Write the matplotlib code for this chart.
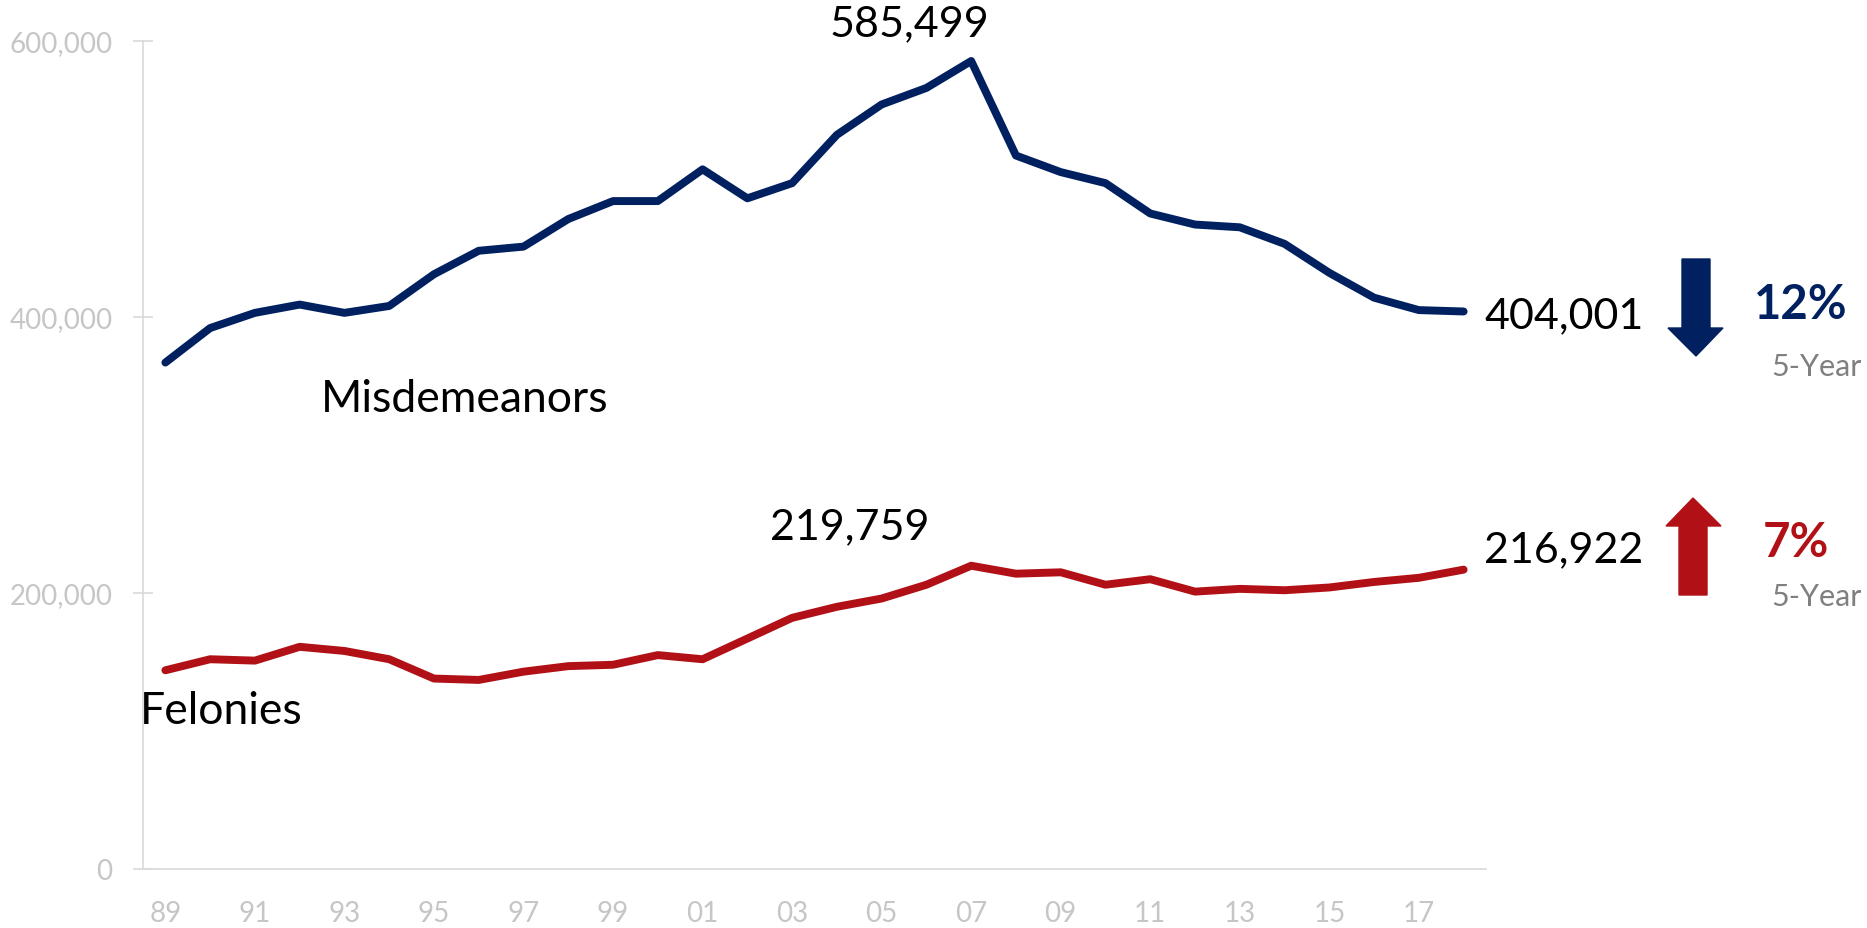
import numpy as np
import matplotlib
matplotlib.use("Agg")
import matplotlib.pyplot as plt
from matplotlib.patches import Polygon
from matplotlib.ticker import FuncFormatter

plt.rcParams['font.family'] = ['Lato', 'DejaVu Sans']

years = list(range(1989, 2019))
misdemeanors = [367000, 392000, 403000, 409000, 403000, 408000, 431000, 448000,
                451000, 471000, 484000, 484000, 507000, 486000, 497000, 532000,
                554000, 566000, 585499, 517000, 505000, 497000, 475000, 467000,
                465000, 453000, 432000, 414000, 405000, 404001]
felonies = [144000, 152000, 151000, 161000, 158000, 152000, 138000, 137000,
            143000, 147000, 148000, 155000, 152000, 167000, 182000, 190000,
            196000, 206000, 219759, 214000, 215000, 206000, 210000, 201000,
            203000, 202000, 204000, 208000, 211000, 216922]
tick_labels = ["%02d" % (y % 100) for y in years]

NAVY = '#002060'
RED = '#B11116'
GREY = '#C6C6C6'

W, H = 1867, 929
fig = plt.figure(figsize=(W / 100, H / 100), dpi=100)
ax = fig.add_axes([143 / W, 1 - 870 / H, (1486 - 143) / W, (870 - 42) / H])

x = np.arange(len(years))
ax.plot(x, misdemeanors, color=NAVY, lw=5.7, solid_capstyle='round', solid_joinstyle='round')
ax.plot(x, felonies, color=RED, lw=5.7, solid_capstyle='round', solid_joinstyle='round')

ax.set_xlim(-0.5, len(years) - 0.5)
ax.set_ylim(0, 600000)
ax.set_yticks([0, 200000, 400000, 600000])
ax.yaxis.set_major_formatter(FuncFormatter(lambda v, p: f"{int(v):,}"))
ax.set_xticks(x[::2])
ax.set_xticklabels(tick_labels[::2])

for s in ['top', 'right']:
    ax.spines[s].set_visible(False)
for s in ['left', 'bottom']:
    ax.spines[s].set_color('#D9D9D9')
    ax.spines[s].set_linewidth(1.2)
ax.tick_params(axis='y', direction='inout', length=14, width=1.2, color='#D9D9D9',
               labelsize=20, labelcolor=GREY, pad=15)
ax.tick_params(axis='x', length=0, labelsize=20, labelcolor=GREY, pad=22)

# labels
ax.text(16.63, 613000, "585,499", fontsize=31, ha='center', va='center', clip_on=False)
ax.text(15.29, 248600, "219,759", fontsize=31, ha='center', va='center')
ax.text(3.48, 341000, "Misdemeanors", fontsize=32, ha='left', va='center')
ax.text(-0.56, 115000, "Felonies", fontsize=32, ha='left', va='center')
ax.text(29.46, misdemeanors[-1] - 3000, f"{misdemeanors[-1]:,}", fontsize=31,
        ha='left', va='center', clip_on=False)
ax.text(29.46, felonies[-1] + 15000, f"{felonies[-1]:,}", fontsize=31,
        ha='left', va='center', clip_on=False)

# trend arrows (figure pixels, y from top)
def px(pts):
    return [(a / W, 1 - b / H) for a, b in pts]

down = [(1682, 260), (1710, 260), (1710, 329), (1723, 329), (1696, 357), (1668, 329), (1682, 329)]
up = [(1679, 596), (1707, 596), (1707, 527), (1721, 527), (1693, 499), (1666, 527), (1679, 527)]
fig.patches.append(Polygon(px(down), closed=True, color=NAVY, transform=fig.transFigure))
fig.patches.append(Polygon(px(up), closed=True, color=RED, transform=fig.transFigure))

fig.text(1754 / W, 1 - 305 / H, "12%", fontsize=34, fontweight='bold', color=NAVY, ha='left', va='center')
fig.text(1763 / W, 1 - 543 / H, "7%", fontsize=34, fontweight='bold', color=RED, ha='left', va='center')
fig.text(1862 / W, 1 - 367 / H, "5-Year", fontsize=22, color='#808080', ha='right', va='center')
fig.text(1862 / W, 1 - 597 / H, "5-Year", fontsize=22, color='#808080', ha='right', va='center')

fig.savefig("out.png", dpi=100)
